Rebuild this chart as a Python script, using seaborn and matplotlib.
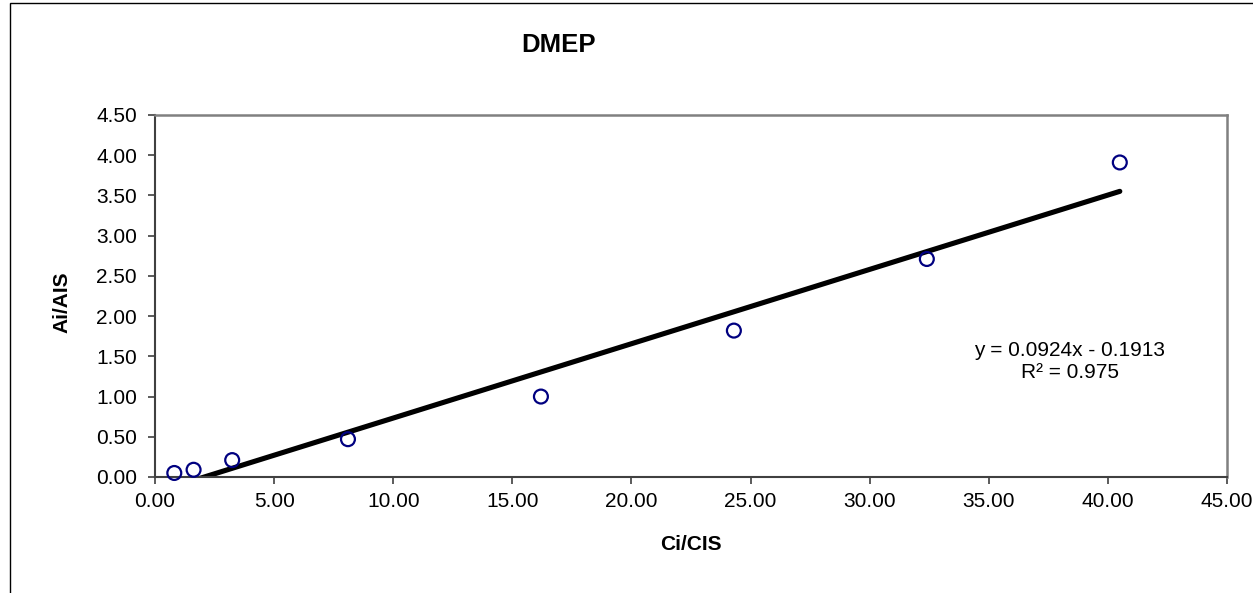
import numpy as np
import pandas as pd
import matplotlib
matplotlib.use("Agg")
import matplotlib.pyplot as plt
from matplotlib.patches import Rectangle
from matplotlib.ticker import FormatStrFormatter, MultipleLocator
import seaborn as sns

# ---- data ----
ci_cis = [0.81, 1.62, 3.24, 8.10, 16.20, 24.30, 32.40, 40.50]
ai_ais = [0.05, 0.09, 0.21, 0.47, 1.00, 1.82, 2.71, 3.91]
slope = 0.0924
intercept = -0.1913
r_squared = 0.975
title = "DMEP"
x_label = "Ci/CIS"
y_label = "Ai/AIS"

sns.set_theme(style="white")
plt.rcParams["font.family"] = ["Liberation Sans", "DejaVu Sans"]
plt.rcParams["text.color"] = "black"
plt.rcParams["axes.labelcolor"] = "black"
plt.rcParams["xtick.color"] = "black"
plt.rcParams["ytick.color"] = "black"

W, H = 1253, 593
fig = plt.figure(figsize=(W / 100, H / 100), dpi=100)
ax_l, ax_r, ax_t, ax_b = 155, 1227, 115, 477
ax = fig.add_axes([ax_l / W, 1 - ax_b / H, (ax_r - ax_l) / W, (ax_b - ax_t) / H])

df = pd.DataFrame({"x": ci_cis, "y": ai_ais})

# trend line
xs = np.array([min(ci_cis), max(ci_cis)])
trend = pd.DataFrame({"x": xs, "y": slope * xs + intercept})
sns.lineplot(data=trend, x="x", y="y", ax=ax, color="black", linewidth=3.7,
             solid_capstyle="round", zorder=2)

# points
sns.scatterplot(data=df, x="x", y="y", ax=ax, s=100, marker="o",
                facecolors="none", edgecolor="#000080", linewidth=1.6,
                zorder=3, clip_on=False)
for coll in ax.collections:
    coll.set_facecolor("none")
    coll.set_edgecolor("#000080")

ax.set_xlim(0, 45)
ax.set_ylim(0, 4.5)
ax.xaxis.set_major_locator(MultipleLocator(5))
ax.yaxis.set_major_locator(MultipleLocator(0.5))
ax.xaxis.set_major_formatter(FormatStrFormatter("%.2f"))
ax.yaxis.set_major_formatter(FormatStrFormatter("%.2f"))

for s in ["top", "right"]:
    ax.spines[s].set_color("#808080")
    ax.spines[s].set_linewidth(1.8)
for s in ["left", "bottom"]:
    ax.spines[s].set_color("#404040")
    ax.spines[s].set_linewidth(1.5)

ax.tick_params(axis="both", which="major", direction="out", length=5, width=1.2,
               color="#404040", labelsize=15, labelcolor="black")
ax.tick_params(axis="x", pad=6, bottom=True)
ax.tick_params(axis="y", pad=8, left=True)
ax.grid(False)

ax.set_xlabel(x_label, fontsize=15, fontweight="bold", color="black")
ax.set_ylabel(y_label, fontsize=15, fontweight="bold", color="black")
ax.xaxis.set_label_coords(0.5, -(545 - ax_b) / (ax_b - ax_t), transform=ax.transAxes)
ax.xaxis.label.set_va("center")
ax.yaxis.set_label_coords((62 - ax_l) / (ax_r - ax_l), 0.5 - (302 - 296) / (ax_b - ax_t))
ax.yaxis.label.set_va("center")

ax.set_title(title, fontsize=18.5, fontweight="bold", color="black",
             x=(559 - ax_l) / (ax_r - ax_l), y=1 + (ax_t - 52) / (ax_b - ax_t), pad=0)

ax.text((1070 - ax_l) / (ax_r - ax_l), (ax_b - 361) / (ax_b - ax_t),
        f"y = {slope:.4f}x - {abs(intercept):.4f}\nR\u00b2 = {r_squared:.3f}",
        transform=ax.transAxes, ha="center", va="center", multialignment="center",
        fontsize=15, color="black")

# outer chart-area border (partially cropped in the original)
fig.add_artist(Rectangle((10 / W, -0.1), 2.0, (1 - 3 / H) + 0.1,
                         transform=fig.transFigure, fill=False,
                         edgecolor="black", linewidth=1.0))

fig.savefig("out.png", dpi=100)
